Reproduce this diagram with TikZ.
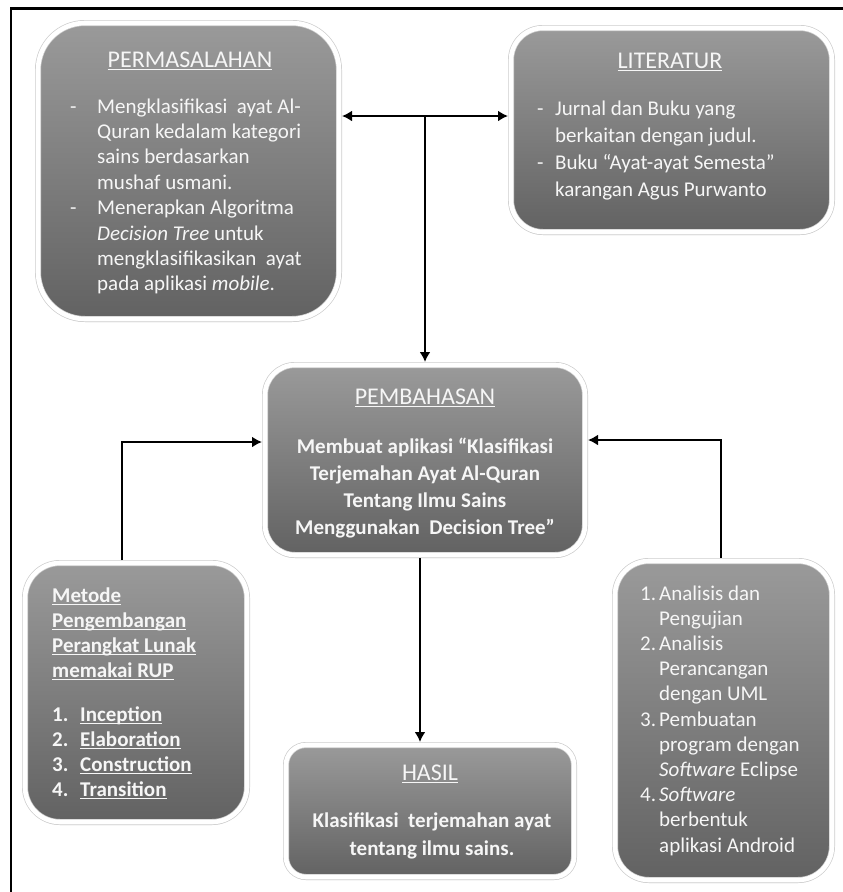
\documentclass[tikz,border=0pt]{standalone}
\usepackage{fontspec}
\setmainfont{Carlito}
\usetikzlibrary{arrows.meta,shadows}
\definecolor{abuatas}{HTML}{9A9A9A}
\definecolor{abutengah}{HTML}{858585}
\definecolor{abubawah}{HTML}{626262}
\definecolor{teks}{HTML}{F6F6F6}
\newcommand{\nomor}[2]{\makebox[#1][l]{#2}} % nomor/strip dengan lebar tetap
\newcommand{\inden}[1]{\hspace*{#1}} % lanjutan baris dalam daftar
\newcommand{\garis}[1]{\setbox0\hbox{#1}\rlap{\rule[-2.6pt]{\wd0}{1.1pt}}\box0} % garis bawah

\begin{document}
\begin{tikzpicture}[x=1pt,y=-1pt,>={Latex[length=10pt,width=11pt]},
  kotak/.style={draw=black!20,double=white,double distance=4.6pt,line width=0.7pt,outer sep=3pt,
    top color=abuatas,middle color=abutengah,bottom color=abubawah,
    drop shadow={shadow xshift=0pt,shadow yshift=-3pt,opacity=.25},inner sep=0pt},
  judul/.style={text=teks,font=\fontsize{24}{28}\selectfont,inner sep=0pt,anchor=base},
  isi/.style={text=teks,font=\fontsize{21}{#1}\selectfont,inner sep=0pt,align=left,anchor=north west},
  isitebal/.style={isi=#1,font=\fontsize{21}{#1}\selectfont\bfseries},
  panah/.style={line width=2.3pt}]
\useasboundingbox (0,0) rectangle (843,892);

\draw[line width=2.7pt] (11,892) -- (11,8.5) -- (843,8.5); % bingkai

% kotak-kotak
\node[kotak,minimum width=301pt,minimum height=296pt,rounded corners=47pt] (perm) at (188.5,171) {}; % permasalahan
\node[kotak,minimum width=321pt,minimum height=204pt,rounded corners=32pt] (lit) at (671.5,130) {}; % literatur
\node[kotak,minimum width=320pt,minimum height=190pt,rounded corners=30pt] (bahas) at (425,460) {}; % pembahasan
\node[kotak,minimum width=222pt,minimum height=259pt,rounded corners=35pt] (metode) at (136,692.5) {}; % metode RUP
\node[kotak,minimum width=288pt,minimum height=132pt,rounded corners=20pt] (hasil) at (430,811) {}; % hasil
\node[kotak,minimum width=217pt,minimum height=319pt,rounded corners=34pt] (analisis) at (723.5,720.5) {}; % tahapan

% judul
\node[judul] (permjudul) at (190,67) {\garis{PERMASALAHAN}};
\node[judul] (litjudul) at (670,68) {\garis{LITERATUR}};
\node[judul] (bahasjudul) at (425,404) {\garis{PEMBAHASAN}};
\node[judul] (hasiljudul) at (430,780) {\garis{HASIL}};

% isi
\node[isi=25.4] (permisi) at (70,98.3)
  {\nomor{27pt}{-}Mengklasifikasi\ \ ayat Al-\\
   \inden{27pt}Quran kedalam kategori\\
   \inden{27pt}sains berdasarkan\\
   \inden{27pt}mushaf usmani.\\
   \nomor{27pt}{-}Menerapkan Algoritma\\
   \inden{27pt}\textit{Decision Tree} untuk\\
   \inden{27pt}mengklasifikasikan\ \ ayat\\
   \inden{27pt}pada aplikasi \textit{mobile}.};
\node[isi=27.3] (litisi) at (537,100.3)
  {\nomor{18pt}{-}Jurnal dan Buku yang\\
   \inden{18pt}berkaitan dengan judul.\\
   \nomor{18pt}{-}Buku “Ayat-ayat Semesta”\\
   \inden{18pt}karangan Agus Purwanto};
\node[isitebal=27,align=center,anchor=north] (bahasisi) at (425,437.3)
  {Membuat aplikasi “Klasifikasi\\
   Terjemahan Ayat Al-Quran\\
   Tentang Ilmu Sains\\
   Menggunakan\ \ Decision Tree”};
\node[isitebal=28,align=center,anchor=north] (hasilisi) at (432,812.3)
  {Klasifikasi\ \ terjemahan ayat\\
   tentang ilmu sains.};
\node[isitebal=25] (metodeisi) at (52,587.3)
  {\garis{Metode}\\
   \garis{Pengembangan}\\
   \garis{Perangkat Lunak}\\
   \garis{memakai RUP}\\[19pt]
   \nomor{28pt}{1.}\garis{Inception}\\
   \nomor{28pt}{2.}\garis{Elaboration}\\
   \nomor{28pt}{3.}\garis{Construction}\\
   \nomor{28pt}{4.}\garis{Transition}};
\node[isi=25.2] (analisisisi) at (640,585.3)
  {\nomor{19pt}{1.}Analisis dan\\
   \inden{19pt}Pengujian\\
   \nomor{19pt}{2.}Analisis\\
   \inden{19pt}Perancangan\\
   \inden{19pt}dengan UML\\
   \nomor{19pt}{3.}Pembuatan\\
   \inden{19pt}program dengan\\
   \inden{19pt}\textit{Software} Eclipse\\
   \nomor{19pt}{4.}\textit{Software}\\
   \inden{19pt}berbentuk\\
   \inden{19pt}aplikasi Android};

% panah
\coordinate (cab) at (425,116); % titik cabang atas
\coordinate (ki) at (122,442); % belokan kiri
\coordinate (ka) at (721,440); % belokan kanan
\coordinate (bw) at (420,650); % jalur ke hasil
\draw[panah,<->] (perm.east |- cab) -- (lit.west |- cab); % permasalahan - literatur
\draw[panah,->] (cab) -- (bahas.north); % ke pembahasan
\draw[panah,->] (metode.north -| ki) -- (ki) -- (bahas.west |- ki); % metode ke pembahasan
\draw[panah,->] (analisis.north -| ka) -- (ka) -- (bahas.east |- ka); % tahapan ke pembahasan
\draw[panah,->] (bahas.south -| bw) -- (hasil.north -| bw); % pembahasan ke hasil
\end{tikzpicture}
\end{document}
